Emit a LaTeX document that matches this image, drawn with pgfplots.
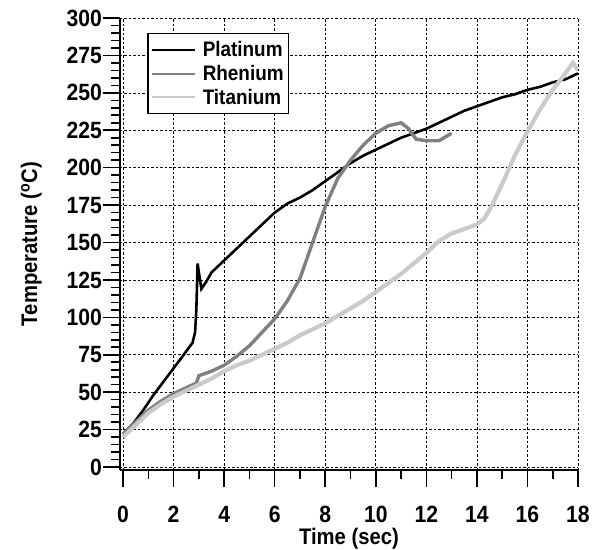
\documentclass[border=0pt]{standalone}
\usepackage{fontspec}
\setmainfont{Liberation Sans}[FakeStretch=0.9, BoldFeatures={FakeStretch=0.9}]
\usepackage{pgfplots}
\pgfplotsset{compat=1.18}

\definecolor{rhen}{HTML}{808080}
\definecolor{titan}{HTML}{CACACA}

\begin{document}
\begin{tikzpicture}
\begin{axis}[
    scale only axis,
    width=458bp, height=452bp,
    xmin=-0.12, xmax=18, ymin=-2, ymax=300,
    xtick={0,2,...,18}, ytick={0,25,...,300},
    minor xtick={1,3,...,17},
    minor ytick={5,10,15,20,30,35,40,45,55,60,65,70,80,85,90,95,105,110,115,120,130,135,140,145,155,160,165,170,180,185,190,195,205,210,215,220,230,235,240,245,255,260,265,270,280,285,290,295},
    axis x line*=bottom, axis y line*=left,
    axis line style={line width=1.8pt, -},
    tick align=outside,
    major tick length=17bp, minor tick length=9bp,
    every tick/.style={black, line width=1.6pt},
    grid=major,
    grid style={black, line width=0.6pt, dash pattern=on 2.5pt off 2pt},
    /pgf/number format/assume math mode=true,
    ticklabel style={font=\fontsize{23.5bp}{23.5bp}\selectfont\bfseries, inner sep=1bp},
    xticklabel style={anchor=base, yshift=-35bp},
    label style={font=\fontsize{22.5bp}{22.5bp}\selectfont\bfseries, inner sep=0pt},
    xlabel={Time (sec)},
    ylabel={Temperature (\textsuperscript{o}C)},
    xlabel style={at={(axis description cs:0.5,-0.165)}, anchor=base},
    ylabel style={at={(axis description cs:-0.181,0.5)}, anchor=base},
    legend style={at={(0.059,0.967)}, anchor=north west,
        draw=black, line width=1.5pt,
        font=\fontsize{21bp}{24bp}\selectfont\bfseries,
        inner xsep=3bp, inner ysep=6bp, row sep=3bp,
        /tikz/every odd column/.append style={column sep=5bp}},
    legend cell align=left,
    legend image code/.code={\draw[#1, line width=2pt] (0bp,0bp) -- (43bp,0bp);},
]
\addplot[black, line width=2.6pt] coordinates {
(0,22)(0.4,29)(0.8,38)(1.2,48)(1.6,57)(2.0,66)(2.4,75)(2.75,83)(2.85,90)(2.9,105)(2.95,136)(3.0,130)(3.1,119)(3.3,124)(3.5,130)(4,138)(4.5,146)(5,154)(5.5,162)(6,170)(6.5,176)(7,180)(7.5,185)(8,191)(8.5,197)(9,203)(9.5,208)(10,212)(10.5,216)(11,220)(11.5,223)(12,226)(12.5,230)(13,234)(13.5,238)(14,241)(14.5,244)(15,247)(15.5,249)(16,252)(16.5,254)(17,257)(17.5,259)(18,263)
};
\addlegendentry{Platinum}
\addplot[rhen, line width=3.4pt] coordinates {
(0,22)(0.5,30)(1.0,38)(1.5,44)(2.0,49)(2.5,53)(2.9,56)(3.0,61)(3.5,64)(4.0,68)(4.5,74)(5.0,81)(5.5,90)(6.0,99)(6.5,111)(7.0,126)(7.5,150)(8.0,174)(8.5,193)(9.0,205)(9.5,215)(10.0,223)(10.5,228)(11.0,230)(11.3,226)(11.6,219)(12.0,218)(12.5,218)(12.8,221)(13.0,223)
};
\addlegendentry{Rhenium}
\addplot[titan, line width=4.2pt] coordinates {
(0,20)(0.5,28)(1,36)(1.5,42)(2,47)(2.5,51)(3,55)(3.5,59)(4,64)(4.5,68)(5,71)(5.5,75)(6,79)(6.5,83)(7,88)(7.5,92)(8,96)(8.5,101)(9,106)(9.5,111)(10,117)(10.5,123)(11,129)(11.5,136)(12,143)(12.5,151)(13,156)(13.5,159)(14,162)(14.3,166)(14.6,175)(15,189)(15.5,208)(16,224)(16.5,239)(17,252)(17.5,263)(17.8,270)(18,265)
};
\addlegendentry{Titanium}
\end{axis}
\pgfresetboundingbox
\path[use as bounding box] (-120bp,-80bp) rectangle (478bp,470bp);
\end{tikzpicture}
\end{document}
